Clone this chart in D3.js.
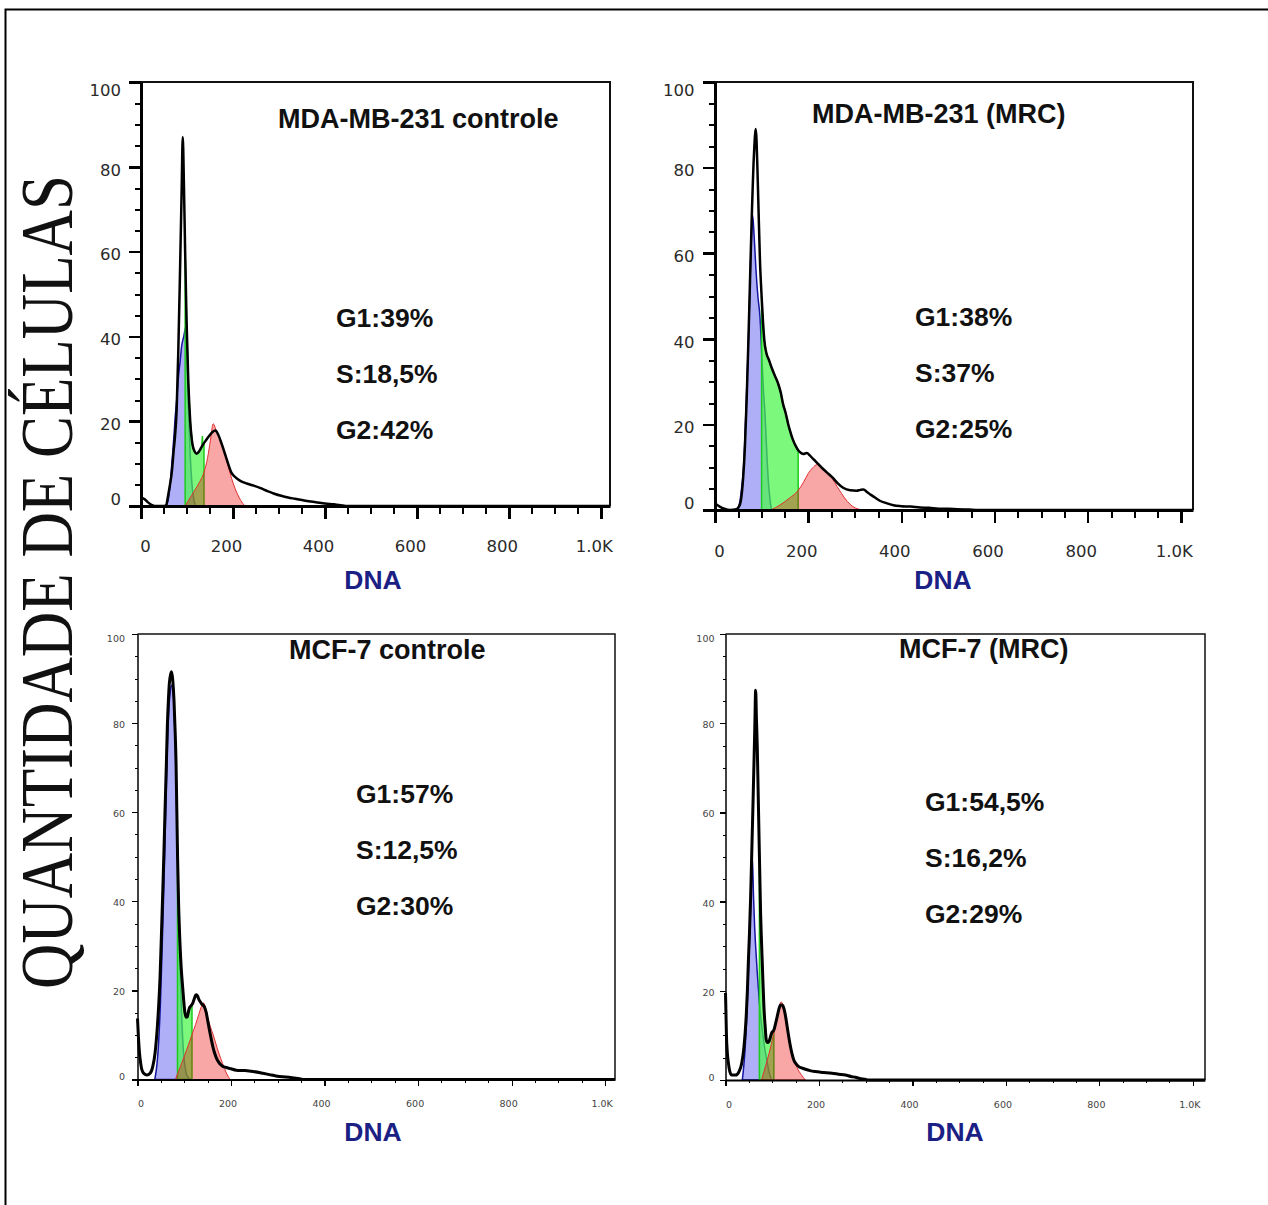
<!DOCTYPE html>
<html>
<head>
  <meta charset="utf-8">
  <title>Ciclo celular</title>
  <script src="https://d3js.org/d3.v7.min.js"></script>
  <style>
    body { margin: 0; background: #fff; }
    .tick line { shape-rendering: crispEdges; }
  </style>
</head>
<body>
  <div id="chart"></div>

  <script type="text/javascript">

    // ---- values: [DNA channel, count] ----
    var mdaCtrlTotal = [[0,2],[8,1.6],[16,0.8],[24,0.2],[30,0],[50,0],[55,0.3],[59,2.5],[63,5],[67,8],[71,13],[74,16.5],[77.5,22.6],[81,36],[85,56],[88.5,75],[90.8,87],[93.5,75],[96,60],[99,44],[103,29],[107,20],[112,14.5],[117,12.8],[121,12.3],[127,13],[133,14.2],[140,15.3],[148,16.5],[155,17.4],[162,17.8],[168,16.8],[175,14.8],[182,12.5],[190,9.8],[197,7.8],[205,6.8],[215,6],[230,5.3],[245,4.8],[260,4.2],[275,3.5],[290,2.9],[305,2.4],[320,2],[335,1.7],[350,1.4],[365,1.1],[380,0.9],[400,0.6],[420,0.4],[435,0.2],[445,0],[1020,0]];
    var mdaCtrlG1 = [[55,0],[60,2],[63,4.7],[66,8.5],[69,12.6],[72,17],[74,20.4],[78,25.5],[81,29.9],[85,34],[88.4,37.7],[93,40],[97.9,42.4],[100,36],[103,24],[107,12],[111,5],[116,1],[120,0]];
    var mdaCtrlS = [[96,0],[96,60],[99,44],[103,29],[107,20],[112,14.5],[117,12.8],[121,12.3],[127,13],[132,13.8],[133.5,16.5],[134.5,14.2],[137,14.5],[137,0]];
    var mdaCtrlG2 = [[96,0],[110,2.5],[125,5.2],[137,8],[145,11.5],[151,15.5],[157,19.4],[163,18],[170,16.3],[177,14.3],[185,11.3],[193,8],[201,5.2],[209,3],[217,1.3],[226,0]];

    var mdaMrcTotal = [[0,1.5],[10,0.8],[20,0.3],[32,0],[46,0.2],[53.6,1.3],[59.3,5.9],[64.4,15.3],[68,26],[71.5,38.8],[75,53],[78.7,67.7],[83.7,83.3],[87.5,89],[91,80],[93,72],[96.6,58],[100,50],[103,44],[106,39.5],[110.6,36.5],[116,35],[121,33.4],[128,31.5],[135.6,29.5],[141,27.5],[146,24.8],[152,22.5],[157,20.1],[163,17.8],[168,16.2],[174,14.8],[179,13.9],[185,13.3],[190,13.1],[197,13.3],[204,12.7],[210,12],[215,11.5],[222,10.7],[229,9.9],[240,8.8],[252,7.6],[263,6.3],[275,5.2],[290,4.6],[304,4.5],[312,4.7],[319,4.8],[326,4.2],[334,3.6],[345,2.8],[355,2.1],[368,1.6],[383,1.1],[400,0.9],[420,0.8],[440,0.6],[460,0.5],[480,0.3],[500,0.3],[520,0.2],[545,0.1],[565,0],[1026,0]];
    var mdaMrcG1 = [[46.5,0],[50,0.7],[53.6,2.1],[57,5],[60.7,9.1],[63.5,15],[66.4,23.2],[69,31],[71.5,38.9],[74,48],[76.5,58.4],[78.7,65],[80.8,68.9],[84,64],[88,56],[92,50],[96.6,45],[101,35],[104,28],[107.3,22.5],[111,14],[114.4,6.9],[118,2.5],[121.5,0]];
    var mdaMrcS = [[100,0],[100,50],[103,44],[106,39.5],[110.6,36.5],[116,35],[121,33.4],[128,31.5],[135.6,29.5],[141,27.5],[146,24.8],[152,22.5],[157,20.1],[163,17.8],[168,16.2],[174,14.8],[178.5,13.9],[178.5,0]];
    var mdaMrcG2 = [[120,0],[140,1.2],[160,2.8],[178,4.5],[190,6.5],[200,8.5],[210,9.9],[219,10.6],[228,10.2],[240,8.8],[252,7.3],[262,5.5],[272,3.8],[284,2],[296,0.8],[308,0.2],[316,0]];

    var mcfCtrlTotal = [[0,13.7],[2,9.5],[4.3,5.9],[7,3.5],[9.3,2.2],[14,1.3],[20,1],[27,1.4],[32.6,2.9],[37.5,5.9],[42.5,11.9],[45.5,17],[48.2,23],[51,32],[53.9,41.8],[56.5,51],[58.9,60.5],[61.5,70],[63.8,79.2],[66,85],[68.1,88.9],[71,91],[73,91.5],[75.5,89.5],[78,85.2],[80.2,79],[82.3,71.7],[84,61],[85.8,49.3],[88,39],[90.8,30.6],[93.5,25],[96.5,20.8],[99,17.5],[101.5,14.9],[104,14],[106.5,14.1],[108.5,15],[110.8,16],[114,16.5],[118,17.1],[122,18.3],[125,19],[128,18.8],[132,17.8],[137,17],[143,16.3],[147,15],[150,13.3],[154,11],[158,8.9],[162,7],[165,5.9],[170,4.5],[175.6,3.6],[182,3],[190,2.7],[200,2.4],[211,2.1],[230,2],[247,1.8],[268,1.4],[282,1.1],[296,0.8],[310,0.6],[324,0.5],[335,0.35],[346,0.2],[353,0],[1021,0]];
    var mcfCtrlG1 = [[37,0],[40,2],[43,5],[46,10],[49,17],[52,27],[55,38],[58,50],[61,63],[64,75],[67,83],[70,87],[73,88.5],[75,88.2],[78,84],[80,78],[82,70],[84,59],[86,48],[88,38],[90,29],[92.5,20],[95,13],[97.8,7],[101,3.5],[104.4,1.3],[109,0.4],[114,0]];
    var mcfCtrlS = [[85.5,0],[85.5,47.8],[88,39],[90.8,30.6],[93.5,25],[96.5,20.8],[99,17.5],[101.5,14.9],[104,14],[106.5,14.1],[108.5,15],[110.8,16],[114,16.5],[116.5,16.7],[116.5,0]];
    var mcfCtrlG2 = [[81,0],[95,3.8],[108,7.5],[116,9.9],[124,12.3],[131,14.6],[136,16.2],[141,17.2],[146,15.8],[151,13.6],[156,11.8],[162,10],[170,7.2],[178,4.7],[186,2.5],[192,1],[198,0]];

    var mcfMrcTotal = [[0,19.5],[1,15],[1.9,10.5],[4,6],[6.2,3.8],[9,2],[13.3,1.1],[21.8,1.1],[28.9,1.9],[34.6,3.7],[39.6,7.5],[42,10.5],[44.6,14.9],[46.8,20],[48.8,26.2],[51.3,33],[53.8,41.1],[55.6,48.5],[57.4,56],[59.2,63.5],[60.9,71],[62.7,79],[64.5,87.4],[66.2,81],[68,74.7],[69.8,65],[71.6,55.3],[73.4,46],[75.1,37.4],[76.9,31.5],[78.7,26.2],[80.5,21],[82.2,16.4],[84.7,12.3],[87.2,9],[90,8.4],[92.8,8.6],[95.5,9.4],[98.5,10.5],[103.5,11.2],[107,12.6],[110.6,14.2],[114,15.8],[117.7,16.8],[121,16.8],[124.8,16.1],[128.5,14.3],[131.9,12],[135.5,9.6],[139,7.5],[142.5,5.8],[146.1,4.5],[151,3.6],[156.8,3],[163,2.7],[171,2.4],[181,2.1],[192,1.9],[210,1.7],[228,1.5],[242,1.3],[256.5,1.1],[268,0.8],[278,0.6],[290,0.3],[299,0.15],[305,0],[1026,0]];
    var mcfMrcG1 = [[36,0],[39,3],[42,7],[45,13],[48,21],[51,30],[53.5,38],[55.5,44],[57.4,50],[60,41],[62.5,34],[64.5,30],[68,24],[71.6,18.7],[75,14.5],[78.7,11.2],[82,8.5],[85.8,6],[90,3.5],[94,1.5],[98.5,0]];
    var mcfMrcS = [[72.5,0],[72.5,50],[73.4,46],[75.1,37.4],[76.9,31.5],[78.7,26.2],[80.5,21],[82.2,16.4],[84.7,12.3],[87.2,9],[90,8.4],[92.8,8.6],[95.5,9.4],[98.5,10.5],[101,11],[103.5,11.2],[103.5,0]];
    var mcfMrcG2 = [[77,0],[88,4],[98,8],[106,12],[113,15.5],[119,17.5],[124,16.5],[130,12.5],[137,8.5],[145,5],[153,2.8],[162,1.2],[171,0]];

    var panelTitles = ['MDA-MB-231 controle', 'MDA-MB-231 (MRC)', 'MCF-7 controle', 'MCF-7 (MRC)'];
    var phaseStats = [
      ['G1:39%', 'S:18,5%', 'G2:42%'],
      ['G1:38%', 'S:37%', 'G2:25%'],
      ['G1:57%', 'S:12,5%', 'G2:30%'],
      ['G1:54,5%', 'S:16,2%', 'G2:29%']
    ];
    var yTicks = [0, 20, 40, 60, 80, 100];
    var xTicks = [0, 200, 400, 600, 800, 1000];
    var xTickLabels = ['0', '200', '400', '600', '800', '1.0K'];
    var xAxisTitle = 'DNA';
    var yAxisTitle = 'QUANTIDADE DE CÉLULAS';

    // ---- layout ----
    var panels = [
      {title: panelTitles[0], stats: phaseStats[0], total: mdaCtrlTotal, g1: mdaCtrlG1, s: mdaCtrlS, g2: mdaCtrlG2,
       left: 141, right: 610, top: 82, bottom: 506, xMax: 1020, big: true,
       titlePos: [278, 128], statsPos: [336, 327], dnaPos: [373, 589], yLabelX: 20, xLabelY: 34},
      {title: panelTitles[1], stats: phaseStats[1], total: mdaMrcTotal, g1: mdaMrcG1, s: mdaMrcS, g2: mdaMrcG2,
       left: 715, right: 1193, top: 82, bottom: 510, xMax: 1026, big: true,
       titlePos: [812, 123], statsPos: [915, 326], dnaPos: [943, 589], yLabelX: 20.5, xLabelY: 35},
      {title: panelTitles[2], stats: phaseStats[2], total: mcfCtrlTotal, g1: mcfCtrlG1, s: mcfCtrlS, g2: mcfCtrlG2,
       left: 137.5, right: 615, top: 634, bottom: 1079.5, xMax: 1021, big: false,
       titlePos: [289, 659], statsPos: [356, 803], dnaPos: [373, 1141], yLabelX: 12.5, xLabelY: 21},
      {title: panelTitles[3], stats: phaseStats[3], total: mcfMrcTotal, g1: mcfMrcG1, s: mcfMrcS, g2: mcfMrcG2,
       left: 725.5, right: 1205, top: 634, bottom: 1080, xMax: 1026, big: false,
       titlePos: [899, 658], statsPos: [925, 811], dnaPos: [955, 1141], yLabelX: 11, xLabelY: 21}
    ];

    var svg = d3.select('#chart')
                .append('svg')
                  .attr('width', 1268)
                  .attr('height', 1205);

    svg.append('rect')
       .attr('x', 5.5).attr('y', 9.5)
       .attr('width', 1400).attr('height', 1400)
       .attr('fill', 'none')
       .attr('stroke', '#000')
       .attr('stroke-width', 2);

    svg.append('text')
       .text(yAxisTitle)
       .attr('transform', 'translate(72,582) rotate(-90)')
       .attr('text-anchor', 'middle')
       .attr('textLength', 814)
       .attr('lengthAdjust', 'spacingAndGlyphs')
       .style('font-family', '"Liberation Serif", "DejaVu Serif", serif')
       .style('font-size', '75px')
       .style('fill', '#111');

    panels.forEach(drawPanel);

    function drawPanel(p) {
      var x = d3.scaleLinear().domain([0, p.xMax]).range([p.left, p.right]);
      var y = d3.scaleLinear().domain([0, 100]).range([p.bottom, p.top]);
      var g = svg.append('g');

      var smoothArea = d3.area().curve(d3.curveMonotoneX)
                         .x(function(d) { return x(d[0]); })
                         .y0(y(0))
                         .y1(function(d) { return y(d[1]); });
      var flatArea = d3.area()
                       .x(function(d) { return x(d[0]); })
                       .y0(y(0))
                       .y1(function(d) { return y(d[1]); });
      var line = d3.line().curve(d3.curveMonotoneX)
                   .x(function(d) { return x(d[0]); })
                   .y(function(d) { return y(d[1]); });

      // G1 (blue), S (green), G2 (red) fits
      g.append('path').datum(p.g1)
       .attr('d', smoothArea)
       .attr('fill', 'rgba(20,20,235,0.34)')
       .attr('stroke', '#1414a0').attr('stroke-width', 1.5);

      g.append('path').datum(p.s)
       .attr('d', flatArea)
       .attr('fill', 'rgba(74,246,74,0.72)')
       .attr('stroke', '#1ccc1c').attr('stroke-width', 1.5);

      g.append('path').datum(p.g2)
       .attr('d', smoothArea)
       .attr('fill', 'rgba(235,0,0,0.35)')
       .attr('stroke', '#e33030').attr('stroke-width', 1);

      // measured histogram
      g.append('path').datum(p.total)
       .attr('d', line)
       .attr('fill', 'none')
       .attr('stroke', '#000')
       .attr('stroke-width', p.big ? 2.5 : 3)
       .attr('stroke-linejoin', 'round');

      // plot frame (top + right)
      g.append('path')
       .attr('d', 'M' + p.left + ',' + p.top + 'H' + p.right + 'V' + p.bottom)
       .attr('fill', 'none')
       .attr('stroke', '#111')
       .attr('stroke-width', p.big ? 2 : 1.5);

      var tickFont = p.big ? '16.5px' : '9.5px';
      var tickColor = p.big ? '#2a2a2a' : '#444';

      // x axis
      var xMinor = d3.range(0, 1001, 50).filter(function(v) { return v % 200 !== 0; });
      g.append('g')
       .attr('transform', 'translate(0,' + p.bottom + ')')
       .call(d3.axisBottom(x).tickValues(xMinor).tickSize(p.big ? 8 : 3).tickSizeOuter(0).tickFormat(''))
       .call(function(a) { a.select('.domain').remove(); })
       .selectAll('line').attr('stroke-width', p.big ? 2 : 1);

      var xg = g.append('g')
                .attr('transform', 'translate(0,' + p.bottom + ')')
                .call(d3.axisBottom(x).tickValues(xTicks).tickSize(p.big ? 13 : 6).tickSizeOuter(0)
                        .tickFormat(function(d, i) { return xTickLabels[i]; }));
      xg.select('.domain').attr('stroke-width', p.big ? 3 : 2);
      xg.selectAll('line').attr('stroke-width', p.big ? 2.5 : 1.2);
      xg.selectAll('text')
        .attr('y', p.xLabelY)
        .attr('dx', function(d) { return d === 0 ? (p.big ? 4 : 3) : (p.big ? -7 : -3.5); })
        .style('font-family', '"DejaVu Sans", Verdana, sans-serif')
        .style('font-size', tickFont)
        .style('fill', tickColor);

      // y axis
      var yMinor = d3.range(0, 101, 5).filter(function(v) { return v % 20 !== 0; });
      g.append('g')
       .attr('transform', 'translate(' + p.left + ',0)')
       .call(d3.axisLeft(y).tickValues(yMinor).tickSize(p.big ? 6 : 3).tickSizeOuter(0).tickFormat(''))
       .call(function(a) { a.select('.domain').remove(); })
       .selectAll('line').attr('stroke-width', p.big ? 2 : 1);

      var yg = g.append('g')
                .attr('transform', 'translate(' + p.left + ',0)')
                .call(d3.axisLeft(y).tickValues(yTicks).tickSize(p.big ? 12 : 6).tickSizeOuter(0));
      yg.select('.domain').attr('stroke-width', p.big ? 3 : 1.5);
      yg.selectAll('line').attr('stroke-width', p.big ? 2.5 : 1.2);
      yg.selectAll('text')
        .attr('x', -p.yLabelX)
        .attr('transform', function(d) {
          var off = d === 100 ? (p.big ? 8 : 4) : d === 0 ? (p.big ? -7 : -3) : (p.big ? 3 : 1.5);
          return 'translate(0,' + off + ')';
        })
        .style('font-family', '"DejaVu Sans", Verdana, sans-serif')
        .style('font-size', tickFont)
        .style('fill', tickColor);

      // texts
      g.append('text')
       .text(p.title)
       .attr('x', p.titlePos[0]).attr('y', p.titlePos[1])
       .style('font-family', '"Liberation Sans", Arial, sans-serif')
       .style('font-weight', 'bold')
       .style('font-size', '27px')
       .style('fill', '#111');

      g.selectAll('.stat')
       .data(p.stats)
       .enter().append('text')
         .attr('class', 'stat')
         .text(function(d) { return d; })
         .attr('x', p.statsPos[0])
         .attr('y', function(d, i) { return p.statsPos[1] + i * 56; })
         .style('font-family', '"Liberation Sans", Arial, sans-serif')
         .style('font-weight', 'bold')
         .style('font-size', '26.5px')
         .style('fill', '#111');

      g.append('text')
       .text(xAxisTitle)
       .attr('x', p.dnaPos[0]).attr('y', p.dnaPos[1])
       .attr('text-anchor', 'middle')
       .style('font-family', '"Liberation Sans", Arial, sans-serif')
       .style('font-weight', 'bold')
       .style('font-size', '26.5px')
       .style('fill', '#1b2085');
    }

  </script>
</body>
</html>
